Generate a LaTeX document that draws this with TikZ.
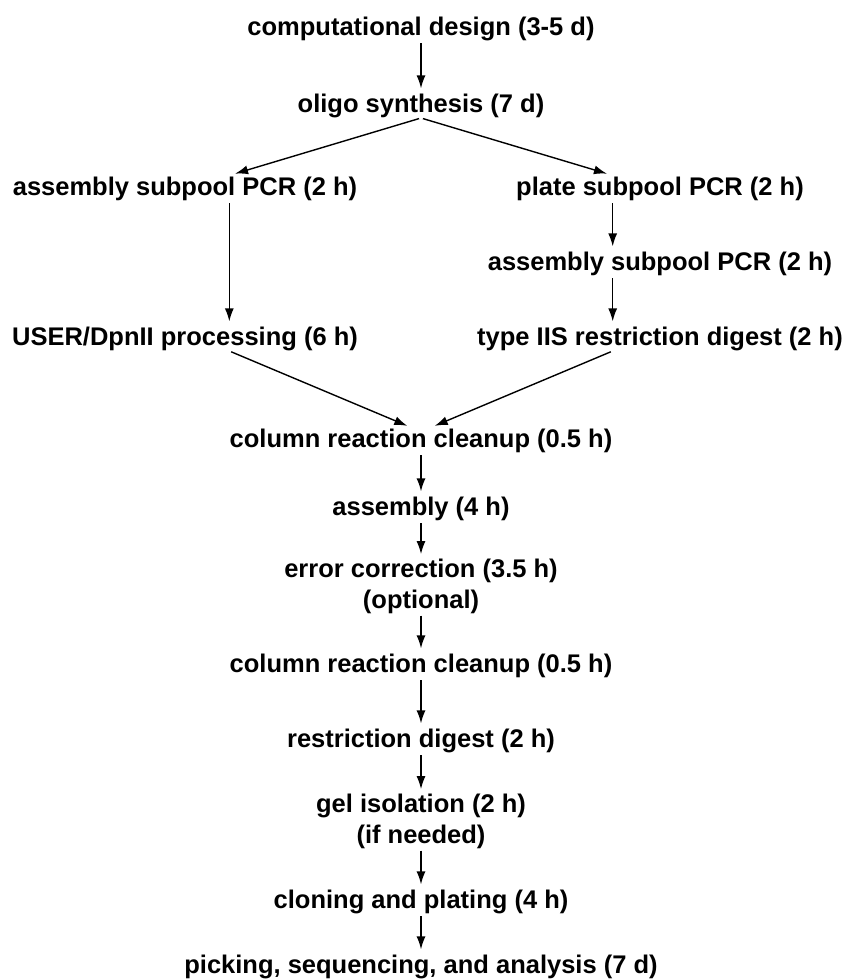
\documentclass[tikz,border=0pt]{standalone}
\usepackage{fontspec}
\setmainfont{Liberation Sans}
\usetikzlibrary{positioning, calc, arrows.meta}
\tikzstyle{Task} = [
inner sep=0pt,
font=\fontsize{12.75}{15.5}\selectfont\bfseries,
align=center]
\tikzstyle{OneLine} = [
Task,
text height=9.6pt, text depth=2.8pt]
\tikzstyle{Arrow} = [
line width=0.7pt,
-{Latex[length=6.5pt, width=4.5pt]},
shorten >= 2pt, shorten <= 1pt]

\begin{document}
\begin{tikzpicture}[x=0.5pt, y=-0.5pt]
    \useasboundingbox (0,0) rectangle (847,980);
    \node [OneLine, anchor=base] (design) at (421,35) {computational design (3-5 d)};
    \node [OneLine, below=38.5pt of design.base, anchor=base] (oligo) {oligo synthesis (7 d)};
    \node [OneLine, below left=41.5pt and 118pt of oligo.base, anchor=base] (asmL) {assembly subpool PCR (2 h)};
    \node [OneLine, below right=41.5pt and 119.5pt of oligo.base, anchor=base] (plate) {plate subpool PCR (2 h)};
    \node [OneLine, below=37.5pt of plate.base, anchor=base] (asmR) {assembly subpool PCR (2 h)};
    \node [OneLine, below=37.5pt of asmR.base, anchor=base] (typeIIS) {type IIS restriction digest (2 h)};
    \node [OneLine, below=75pt of asmL.base, anchor=base] (user) {USER/DpnII processing (6 h)};
    \node [OneLine, below=167.5pt of oligo.base, anchor=base] (clean1) {column reaction cleanup (0.5 h)};
    \node [OneLine, below=34pt of clean1.base, anchor=base] (assembly) {assembly (4 h)};
    % base of a two-line node is its last line
    \node [Task, below=46.5pt of assembly.base, anchor=base] (errcorr) {error correction (3.5 h)\\(optional)};
    \node [OneLine, below=78.5pt of assembly.base, anchor=base] (clean2) {column reaction cleanup (0.5 h)};
    \node [OneLine, below=37.5pt of clean2.base, anchor=base] (digest) {restriction digest (2 h)};
    \node [Task, below=48pt of digest.base, anchor=base] (gel) {gel isolation (2 h)\\(if needed)};
    \node [OneLine, below=80.5pt of digest.base, anchor=base] (cloning) {cloning and plating (4 h)};
    \node [OneLine, below=32.5pt of cloning.base, anchor=base] (picking) {picking, sequencing, and analysis (7 d)};
    % split into the two subpool branches
    \draw[Arrow] (design) -- (oligo);
    \draw[Arrow, shorten >=3pt] (oligo.south) -- (asmL.north -| clean1.west);
    \draw[Arrow, shorten >=3pt] (oligo.south) -- (plate.north -| clean1.east);
    \draw[Arrow] (asmL.south -| clean1.west) -- (user.north -| clean1.west);
    \draw[Arrow] (plate.south -| clean1.east) -- (asmR.north -| clean1.east);
    \draw[Arrow] (asmR.south -| clean1.east) -- (typeIIS.north -| clean1.east);
    \draw[Arrow] (user.south -| clean1.west) -- ([xshift=-5pt]clean1.north);
    \draw[Arrow] (typeIIS.south -| clean1.east) -- ([xshift=5pt]clean1.north);
    % common path
    \draw[Arrow] (clean1) -- (assembly);
    \draw[Arrow] (assembly) -- (errcorr);
    \draw[Arrow] (errcorr) -- (clean2);
    \draw[Arrow] (clean2) -- (digest);
    \draw[Arrow] (digest) -- (gel);
    \draw[Arrow] (gel) -- (cloning);
    \draw[Arrow] (cloning) -- (picking);
\end{tikzpicture}
\end{document}
